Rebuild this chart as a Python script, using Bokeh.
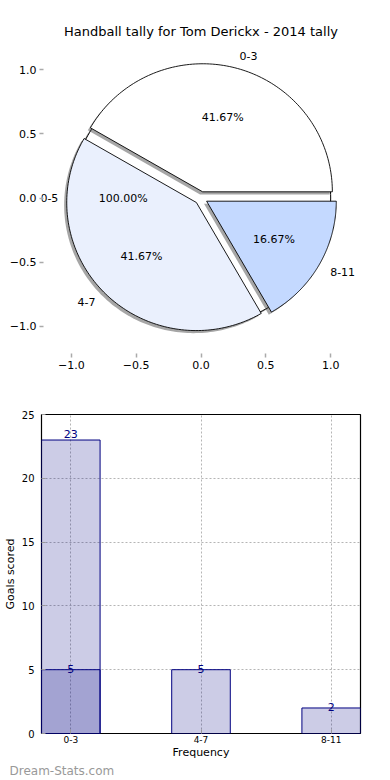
import numpy as np
from bokeh.plotting import figure
from bokeh.layouts import column
from bokeh.models import (LinearAxis, FixedTicker, SingleIntervalTicker, Range1d,
                          CustomJSTickFormatter, Title)
from bokeh.core.properties import value
from bokeh.embed import file_html
from bokeh.resources import INLINE

FONT = "DejaVu Sans"

# ---------------- data ----------------
title_text = "Handball tally for Tom Derickx - 2014 tally"
pie_labels = ["0-3", "4-7", "8-11"]
pie_values = [5, 5, 2]
pie_colors = ["#ffffff", "#eaf0fd", "#c4d9ff"]
outer_labels = ["0-5"]
outer_values = [1]

categories = ["0-3", "4-7", "8-11"]
frequency = [5, 5, 2]
total_cats = ["0-3"]
total_values = [23]
y_label = "Goals scored"
x_label = "Frequency"
watermark = "Dream-Stats.com"

EXPLODE = 0.05
SHADOW = 0.02

# ---------------- pie figure ----------------
p1 = figure(width=374, frame_height=315,
            x_range=Range1d(-1.23, 1.23), y_range=Range1d(-1.23, 1.23),
            output_backend="svg", toolbar_location=None, x_axis_location=None,
            y_axis_location=None, min_border_left=10, min_border_right=14,
            min_border_top=40, min_border_bottom=24)
p1.title.text = title_text
p1.title.text_font = FONT
p1.title.text_font_size = "13px"
p1.title.text_font_style = "normal"
p1.title.text_color = "black"
p1.title.align = "center"
p1.title.standoff = 4
p1.outline_line_color = None
p1.xgrid.visible = False
p1.ygrid.visible = False

fmt = CustomJSTickFormatter(code="return tick.toFixed(1).replace('-', '\\u2212');")
ticks = [-1.0, -0.5, 0.0, 0.5, 1.0]
for side in ["left", "below"]:
    ax = LinearAxis(ticker=FixedTicker(ticks=ticks), formatter=fmt)
    ax.axis_line_color = None
    ax.major_tick_line_color = "#aaaaaa"
    ax.major_tick_line_width = 1.5
    ax.major_tick_in = 2
    ax.major_tick_out = 2
    ax.minor_tick_line_color = None
    ax.major_label_text_font = FONT
    ax.major_label_text_font_size = "11px"
    ax.major_label_text_color = "black"
    ax.major_label_standoff = 3
    p1.add_layout(ax, side)

# outer full pie (0-5, 100%)
arc = np.linspace(0, 2 * np.pi, 240)
ox = list(np.cos(arc))
oy = list(np.sin(arc))
p1.patch([v - SHADOW for v in ox], [v - SHADOW for v in oy],
         fill_color="#4d4d4d", fill_alpha=0.5, line_color=None)
p1.patch(ox, oy, fill_color="white", line_color="black", line_width=1)

fracs = np.array(pie_values, dtype=float) / sum(pie_values)
starts = np.concatenate([[0], np.cumsum(fracs)[:-1]]) * 2 * np.pi
ends = np.cumsum(fracs) * 2 * np.pi
mids = (starts + ends) / 2
cxs = EXPLODE * np.cos(mids)
cys = EXPLODE * np.sin(mids)

xs, ys, sxs, sys_ = [], [], [], []
for a0, a1, cx, cy in zip(starts, ends, cxs, cys):
    t = np.linspace(a0, a1, 120)
    px = np.concatenate([[cx], cx + np.cos(t)])
    py = np.concatenate([[cy], cy + np.sin(t)])
    xs.append(list(px)); ys.append(list(py))
    sxs.append(list(px - SHADOW)); sys_.append(list(py - SHADOW))

p1.patches(sxs, sys_, fill_color="#4d4d4d", fill_alpha=0.5, line_color=None)
p1.patches(xs, ys, fill_color=pie_colors, line_color="black", line_width=0.9)

# labels
lab_x = list(cxs + 1.1 * np.cos(mids))
lab_y = list(cys + 1.1 * np.sin(mids))
aligns = ["left" if np.cos(m) > 0 else "right" for m in mids]
p1.text(x=lab_x, y=lab_y, text=pie_labels,
        text_align=aligns, text_baseline="middle",
        text_font=value(FONT), text_font_size="11px", text_color="black")
pct_x = list(cxs + 0.6 * np.cos(mids))
pct_y = list(cys + 0.6 * np.sin(mids))
pct_txt = ["%.2f%%" % (f * 100) for f in fracs]
p1.text(x=pct_x, y=pct_y, text=pct_txt, text_align="center", text_baseline="middle",
        text_font=value(FONT), text_font_size="11px", text_color="black")

ofr = np.array(outer_values, dtype=float) / sum(outer_values)
omid = np.pi  # single full slice, midpoint at 180 degrees
p1.text(x=[1.1 * np.cos(omid)], y=[1.1 * np.sin(omid)], text=outer_labels,
        text_align="right", text_baseline="middle",
        text_font=value(FONT), text_font_size="11px", text_color="black")
p1.text(x=[0.6 * np.cos(omid)], y=[0.6 * np.sin(omid)],
        text=["%.2f%%" % (f * 100) for f in ofr], text_align="center",
        text_baseline="middle", text_font=value(FONT), text_font_size="11px",
        text_color="black")

# ---------------- bar figure ----------------
xpos = list(range(len(categories)))
p2 = figure(width=374, frame_height=319,
            x_range=Range1d(-0.225, len(categories) - 1 + 0.225),
            y_range=Range1d(0, 25),
            output_backend="svg", toolbar_location=None,
            min_border_left=10, min_border_right=12, min_border_top=35,
            min_border_bottom=0)
p2.outline_line_color = "black"
p2.outline_line_width = 1.2
p2.outline_line_alpha = 1

p2.xaxis.ticker = FixedTicker(ticks=xpos)
p2.xaxis.major_label_overrides = {i: c for i, c in enumerate(categories)}
p2.yaxis.ticker = SingleIntervalTicker(interval=5)
for ax in (p2.xaxis[0], p2.yaxis[0]):
    ax.axis_line_color = None
    ax.major_tick_line_color = "#999999"
    ax.major_tick_in = 4
    ax.major_tick_out = 0
    ax.minor_tick_line_color = None
    ax.major_label_text_font = FONT
    ax.major_label_text_color = "black"
    ax.major_label_standoff = 3
    ax.axis_label_text_font = FONT
    ax.axis_label_text_font_style = "normal"
    ax.axis_label_text_font_size = "11px"
    ax.axis_label_text_color = "black"
    ax.axis_label_standoff = 2
p2.xaxis.major_label_text_font_size = "9px"
p2.xaxis.major_label_standoff = 2
p2.xaxis.axis_label_standoff = 0
p2.yaxis.major_label_text_font_size = "10px"
p2.xaxis.axis_label = x_label
p2.yaxis.axis_label = y_label

for g in (p2.xgrid[0], p2.ygrid[0]):
    g.grid_line_color = "#b5b5b5"
    g.grid_line_dash = "2 2"
    g.grid_line_width = 1
p2.xgrid.ticker = FixedTicker(ticks=xpos)

tot_x = [categories.index(c) for c in total_cats]
p2.vbar(x=tot_x, top=total_values, width=0.45, fill_color="navy", fill_alpha=0.2,
        line_color="navy", line_width=1)
p2.vbar(x=xpos, top=frequency, width=0.45, fill_color="navy", fill_alpha=0.2,
        line_color="navy", line_width=1)

p2.text(x=tot_x, y=total_values, text=[str(v) for v in total_values],
        text_align="center", text_baseline="bottom", y_offset=-2,
        text_font=value(FONT), text_font_size="11px", text_color="navy")
p2.text(x=xpos, y=frequency, text=[str(v) for v in frequency],
        text_align="center", text_baseline="middle", y_offset=-1,
        text_font=value(FONT), text_font_size="11px", text_color="navy")

wm = Title(text=watermark, align="left", offset=-32, standoff=0,
           text_font=FONT, text_font_size="12px", text_font_style="normal",
           text_color="#999999")
p2.add_layout(wm, "below")

layout = column(p1, p2, spacing=0)
open("out.html", "w").write(file_html(layout, INLINE))
